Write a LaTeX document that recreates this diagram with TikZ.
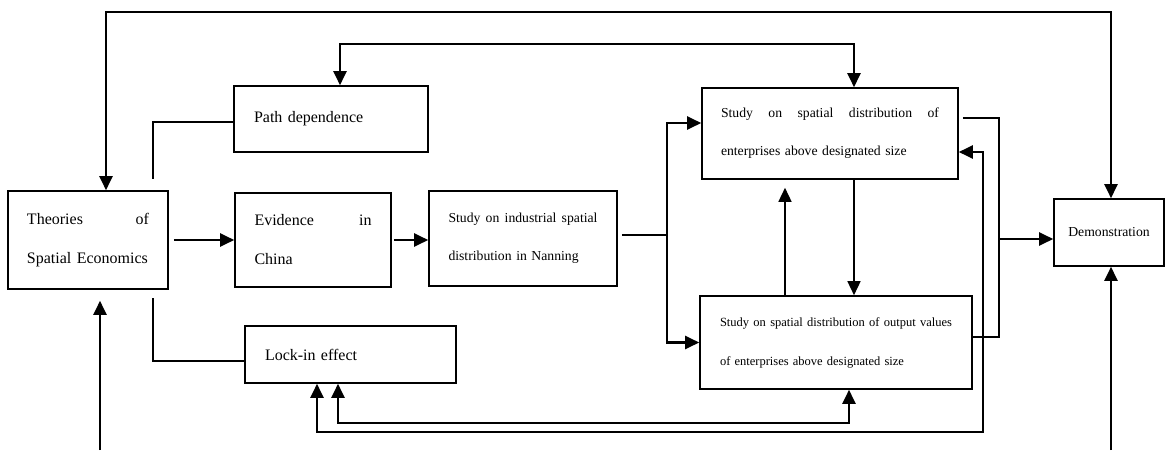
\documentclass[tikz,border=0pt]{standalone}
\usepackage{fontspec}
\setmainfont{Liberation Serif}
\usetikzlibrary{arrows.meta,calc}

\begin{document}
\begin{tikzpicture}[x=1pt, y=-1pt,
  font=\fontsize{16}{39}\selectfont,
  box/.style={draw, line width=1.6pt, inner sep=0pt, align=left},
  small/.style={font=\fontsize{13.7}{38}\selectfont},
  conn/.style={line width=2.2pt},
  arr/.style={conn, -{Triangle[length=14pt,width=13pt]}},
  arrs/.style={conn, {Triangle[length=14pt,width=13pt]}-{Triangle[length=14pt,width=13pt]}}]
  \useasboundingbox (0,0) rectangle (1165,450);

  \node[box, minimum width=160pt, minimum height=98pt, text width=122pt] (theo) at (88,240) {Theories\hfill of\\Spatial Economics};
  \node[box, minimum width=194pt, minimum height=66pt, text width=154pt] (path) at (331,119) {Path dependence};
  \node[box, minimum width=156pt, minimum height=94pt, text width=117pt] (evid) at (313,240) {Evidence\hfill in\\China};
  \node[box, small, minimum width=188pt, minimum height=95pt, text width=149pt] (ind) at (523,238.5) {Study\hfill on\hfill industrial\hfill spatial\\distribution in Nanning};
  \node[box, minimum width=211pt, minimum height=57pt, text width=171pt] (lock) at (350.5,354.5) {Lock-in effect};
  \node[box, small, minimum width=256pt, minimum height=91pt, text width=218pt] (ent) at (830,133.5) {Study\hfill on\hfill spatial\hfill distribution\hfill of\\enterprises above designated size};
  \node[box, font=\fontsize{12.5}{39}\selectfont, minimum width=272pt, minimum height=93pt, text width=232pt] (out) at (836,342.5) {Study\hfill on\hfill spatial\hfill distribution\hfill of\hfill output\hfill values\\of enterprises above designated size};
  \node[box, small, align=center, minimum width=110pt, minimum height=67pt] (demo) at (1109,232.5) {Demonstration};

  % loops over the top
  \coordinate (tl) at (106,12);
  \coordinate (tr) at (1111,12);
  \draw[arrs] (theo.north -| tl) -- (tl) -- (tr) -- (demo.north -| tr);
  \coordinate (ml) at (340,44);
  \coordinate (mr) at (854,44);
  \draw[arrs] (path.north -| ml) -- (ml) -- (mr) -- (ent.north -| mr);

  \coordinate (pj) at (153,179);
  \draw[conn] ($(path.west)+(0,3)$) -| (pj);
  \coordinate (lj) at (153,298);
  \draw[conn] (lj) |- ($(lock.west)+(0,6.5)$);

  \draw[arr] ($(theo.east)+(5,0)$) -- (evid.west);
  \draw[arr] ($(evid.east)+(2,0)$) -- (evid.east -| ind.west);

  \coordinate (sp) at (667,235);
  \draw[conn] ($(ind.east |- sp)+(4,0)$) -- (sp);
  \draw[arr] (sp) |- ($(ent.west)+(0,-10.5)$);
  \draw[arr] (sp) |- (out.west);

  \draw[arr, line width=1.5pt] ($(out.north)+(-51,0)$) -- ($(ent.south)+(-45,8)$);
  \draw[arr, line width=1.5pt] ($(ent.south)+(24,0)$) -- ($(out.north)+(18,0)$);

  \coordinate (mj) at (999,239);
  \draw[conn] ($(ent.east)+(4,-15.5)$) -| (mj) |- ($(out.east)+(0,-5.5)$);
  \draw[arr] (mj) -- (mj -| demo.west);

  % loops under the boxes
  \coordinate (o1) at (983,432);
  \draw[arrs] ($(lock.south)+(-33.5,0)$) |- (o1) |- ($(ent.east)+(0,18.5)$);
  \coordinate (o2) at (849,423);
  \draw[arrs] ($(lock.south)+(-12.5,0)$) |- (o2) -- (o2 |- out.south);

  \coordinate (b1) at (100,450);
  \draw[arr] (b1) -- ($(theo.south -| b1)+(0,11)$);
  \coordinate (b2) at (1111,450);
  \draw[arr] (b2) -- (b2 |- demo.south);
\end{tikzpicture}
\end{document}
